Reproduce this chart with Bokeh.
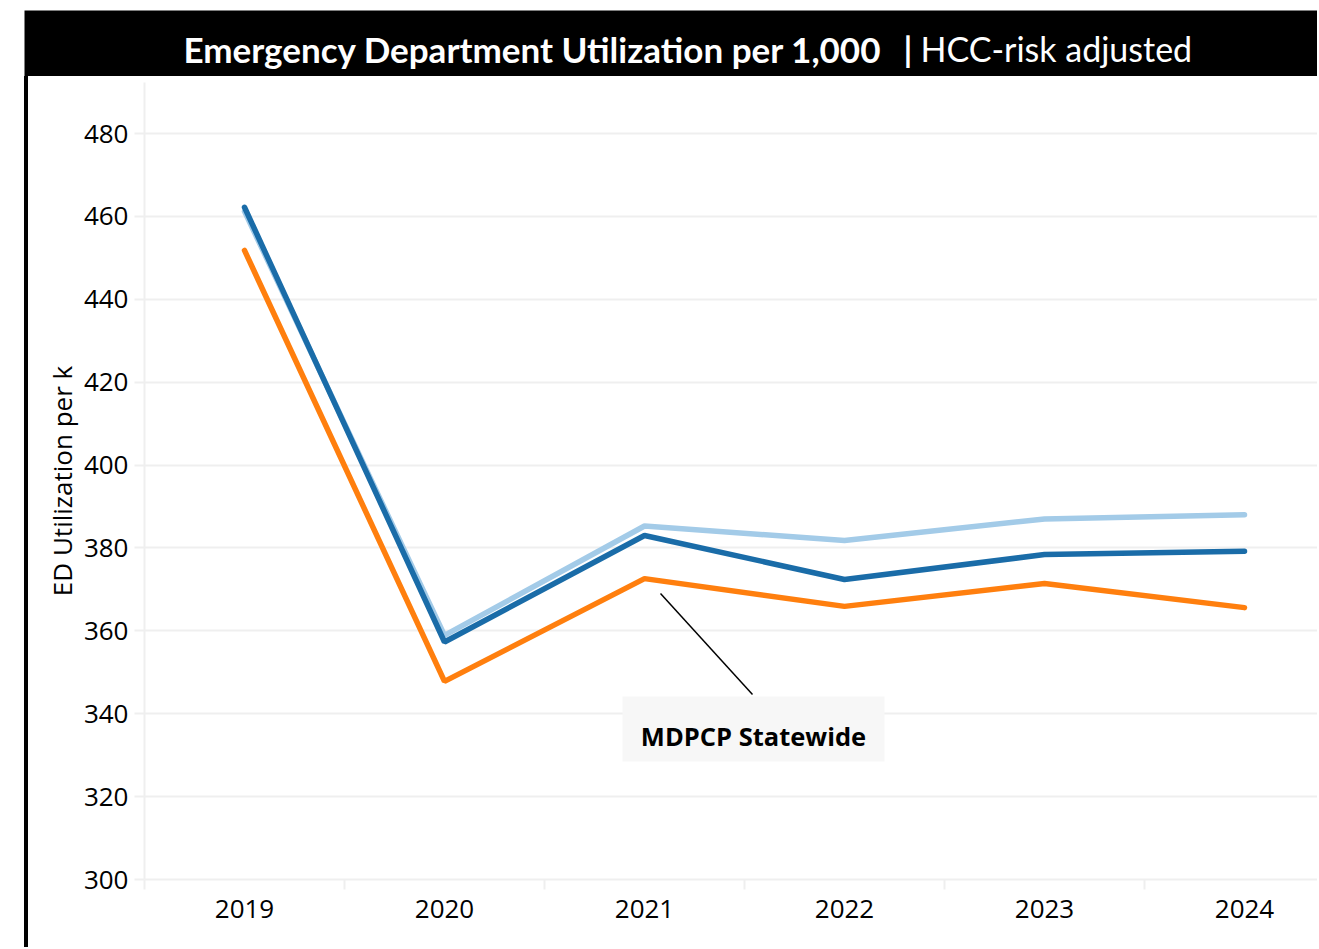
from bokeh.plotting import figure
from bokeh.layouts import column, row
from bokeh.models import Range1d, FixedTicker, Label, BoxAnnotation, Arrow, Spacer
from bokeh.core.properties import value
from bokeh.embed import file_html
from bokeh.resources import INLINE

# ---- data ----
years = [2019, 2020, 2021, 2022, 2023, 2024]
year_labels = ["2019", "2020", "2021", "2022", "2023", "2024"]
series_light = [461.2, 358.9, 385.3, 381.8, 387.0, 388.0]
series_dark = [462.2, 357.3, 383.0, 372.4, 378.4, 379.2]
series_orange = [451.8, 347.8, 372.6, 365.9, 371.4, 365.6]
y_ticks = [300, 320, 340, 360, 380, 400, 420, 440, 460, 480]
minor_x = [2018.5, 2019.5, 2020.5, 2021.5, 2022.5, 2023.5]

title_main = "Emergency Department Utilization per 1,000"
title_bar = "|"
title_sub = "HCC-risk adjusted"
y_title = "ED Utilization per k"
callout_text = "MDPCP Statewide"

W, H = 1317, 947
TITLE_H = 76
LEFT_PAD, BORDER_W = 24, 4

# ---- title bar (its own figure, pixel coordinates) ----
t = figure(width=W, height=TITLE_H, output_backend="svg", toolbar_location=None,
           x_range=Range1d(LEFT_PAD, W), y_range=Range1d(TITLE_H, 10),
           min_border_left=LEFT_PAD, min_border_top=10, min_border_right=0,
           min_border_bottom=0, x_axis_location=None, y_axis_location=None)
t.outline_line_color = None
t.background_fill_color = "black"
t.border_fill_color = "white"
t.grid.visible = False
t.text(x=[183], y=[48], text=[title_main], text_font=value("Lato"),
       text_font_style="bold", text_font_size="35px", text_color="white",
       text_align="left", text_baseline="middle")
t.text(x=[903], y=[48], text=[title_bar], text_font=value("Lato"),
       text_font_style="bold", text_font_size="34px", text_color="white",
       text_align="left", text_baseline="middle")
t.text(x=[920], y=[48], text=[title_sub], text_font=value("Lato"),
       text_font_style="normal", text_font_size="34px", text_color="white",
       text_align="left", text_baseline="middle")

# ---- main chart ----
MW = W - LEFT_PAD - BORDER_W
MH = H - TITLE_H
FL, FT, FHGT = 116, 6, 797
FB = MH - FT - FHGT
px_per_year = 200.0
px_per_unit = 746.0 / 180.0
fw = MW - FL

p = figure(width=MW, height=MH, output_backend="svg", toolbar_location=None,
           x_range=Range1d(2018.5, 2018.5 + fw / px_per_year),
           y_range=Range1d(300, 300 + FHGT / px_per_unit),
           min_border_left=FL, min_border_top=FT, min_border_bottom=FB,
           min_border_right=0)
p.outline_line_color = None
p.background_fill_color = "white"
p.border_fill_color = "white"

GRID = "#efefef"
p.xgrid.grid_line_color = None
p.ygrid.ticker = FixedTicker(ticks=y_ticks)
p.ygrid.grid_line_color = GRID
p.ygrid.grid_line_width = 2

ya = p.yaxis[0]
ya.ticker = FixedTicker(ticks=y_ticks)
ya.axis_line_color = GRID
ya.axis_line_width = 2
ya.major_tick_line_color = GRID
ya.major_tick_line_width = 2
ya.major_tick_out = 10
ya.major_tick_in = 0
ya.minor_tick_line_color = None
ya.major_label_standoff = 6
ya.major_label_text_font = "Open Sans"
ya.major_label_text_font_size = "26px"
ya.major_label_text_color = "black"
ya.axis_label = y_title
ya.axis_label_text_font = "Open Sans"
ya.axis_label_text_font_style = "normal"
ya.axis_label_text_font_size = "26px"
ya.axis_label_text_color = "black"
ya.axis_label_standoff = 1

xa = p.xaxis[0]
xa.ticker = FixedTicker(ticks=years, minor_ticks=minor_x)
xa.major_label_overrides = {y: l for y, l in zip(years, year_labels)}
xa.axis_line_color = GRID
xa.axis_line_width = 2
xa.major_tick_line_color = None
xa.major_tick_out = 0
xa.major_tick_in = 0
xa.minor_tick_line_color = GRID
xa.minor_tick_line_width = 2
xa.minor_tick_out = 10
xa.minor_tick_in = 0
xa.major_label_standoff = 10
xa.major_label_text_font = "Open Sans"
xa.major_label_text_font_size = "26px"
xa.major_label_text_color = "black"

p.line(years, series_light, line_color="#a3cbe8", line_width=5.5, line_cap="round")
p.line(years, series_dark, line_color="#1a6ca8", line_width=5.5, line_cap="round")
p.line(years, series_orange, line_color="#ff7f0e", line_width=5.5, line_cap="round")

# reference-pixel -> data helpers for the callout
def dx(px):
    return 2019 + (px - 244) / px_per_year

def dy(py):
    return 300 + (879 - py) / px_per_unit

p.add_layout(Arrow(x_start=dx(660), y_start=dy(593), x_end=dx(752), y_end=dy(694),
                   line_color="black", line_width=1.5, end=None))
p.add_layout(BoxAnnotation(left=dx(622), right=dx(884), top=dy(696), bottom=dy(761),
                           fill_color="#f7f7f7", fill_alpha=1, line_color=None))
p.add_layout(Label(x=dx(753), y=dy(735), text=callout_text, text_font="Open Sans",
                   text_font_style="bold", text_font_size="25.5px", text_color="black",
                   text_align="center", text_baseline="middle"))

left_pad = Spacer(width=LEFT_PAD, height=MH)
border = Spacer(width=BORDER_W, height=MH, styles={"background-color": "black"})

layout = column(t, row(left_pad, border, p, spacing=0), spacing=0)

open("out.html", "w").write(file_html(layout, INLINE))
